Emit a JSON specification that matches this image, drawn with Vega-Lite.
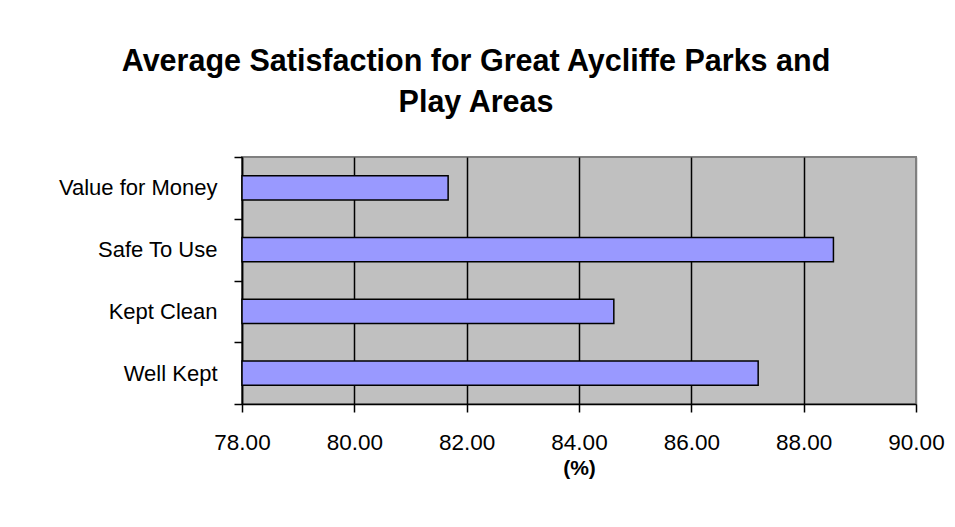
{
  "$schema": "https://vega.github.io/schema/vega-lite/v6.json",
  "width": 674,
  "height": 247,
  "autosize": {"type": "none"},
  "padding": {"left": 242, "top": 157, "right": 39, "bottom": 123},
  "background": "white",
  "title": {
    "text": ["Average Satisfaction for Great Aycliffe Parks and", "Play Areas"],
    "font": "Liberation Sans",
    "fontSize": 30.5,
    "fontWeight": "bold",
    "color": "black",
    "anchor": "middle",
    "lineHeight": 41,
    "dx": -103,
    "offset": 28
  },
  "data": {
    "values": [
      {"category": "Value for Money", "score": 81.67},
      {"category": "Safe To Use", "score": 88.53},
      {"category": "Kept Clean", "score": 84.62},
      {"category": "Well Kept", "score": 87.19}
    ]
  },
  "mark": {
    "type": "bar",
    "fill": "#9999FF",
    "stroke": "black",
    "strokeWidth": 1.5,
    "height": {"band": 0.39}
  },
  "encoding": {
    "y": {
      "field": "category",
      "type": "nominal",
      "sort": null,
      "scale": {"paddingInner": 0, "paddingOuter": 0},
      "axis": {
        "title": null,
        "tickBand": "extent",
        "domainColor": "black",
        "domainWidth": 1.5,
        "tickColor": "black",
        "tickWidth": 1.5,
        "tickSize": 8,
        "labelFont": "Liberation Sans",
        "labelFontSize": 22,
        "labelColor": "black",
        "labelPadding": 17
      }
    },
    "x": {
      "field": "score",
      "type": "quantitative",
      "scale": {"domain": [78, 90], "zero": false, "nice": false},
      "axis": {
        "title": "(%)",
        "titleFont": "Liberation Sans",
        "titleFontSize": 21,
        "titleFontWeight": "bold",
        "titleColor": "black",
        "titlePadding": 4,
        "values": [78, 80, 82, 84, 86, 88, 90],
        "format": ".2f",
        "labelFlush": false,
        "grid": true,
        "gridColor": {"condition": {"test": "datum.value == 90", "value": "#808080"}, "value": "black"},
        "gridWidth": 1.5,
        "domainColor": "black",
        "domainWidth": 1.5,
        "tickColor": "black",
        "tickWidth": 1.5,
        "tickSize": 8,
        "labelFont": "Liberation Sans",
        "labelFontSize": 22.5,
        "labelColor": "black",
        "labelPadding": 19
      }
    },
    "x2": {"datum": 78}
  },
  "config": {
    "view": {"fill": "#C0C0C0", "stroke": "#808080", "strokeWidth": 2}
  }
}
